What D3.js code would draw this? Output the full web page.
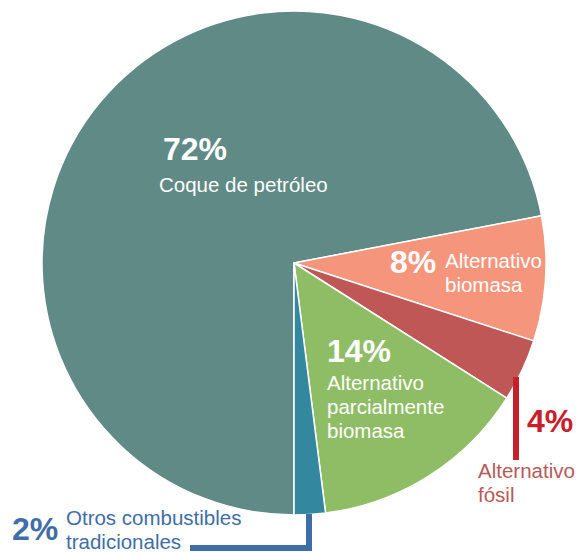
<!DOCTYPE html>
<html>
<head>
<meta charset="utf-8">
<script src="https://cdn.jsdelivr.net/npm/d3@7"></script>
<style>
  html, body { margin: 0; padding: 0; background: #fff; }
  svg { display: block; font-family: "Liberation Sans", Arial, Helvetica, sans-serif; }
</style>
</head>
<body>
<div id="chart-area"></div>
<script>
// data
var categories = ["Coque de petróleo", "Alternativo biomasa", "Alternativo fósil",
  "Alternativo parcialmente biomasa", "Otros combustibles tradicionales"];
var values = [72, 8, 4, 14, 2];
var colors = ["#5f8a86", "#f4957c", "#bf5756", "#8fbd66", "#33889f"];

var width = 577, height = 552;
var cx = 294, cy = 263, radius = 252;

var svg = d3.select("#chart-area")
  .append("svg")
  .attr("width", width)
  .attr("height", height);

var g = svg.append("g")
  .attr("transform", "translate(" + cx + "," + cy + ")");

var pie = d3.pie()
  .sort(null)
  .value(function(d) { return d; })
  .startAngle(Math.PI)
  .endAngle(3 * Math.PI);

var arc = d3.arc().innerRadius(0).outerRadius(radius);

var arcs = pie(values);

g.selectAll("path.slice")
  .data(arcs)
  .enter()
  .append("path")
  .attr("class", "slice")
  .attr("d", arc)
  .attr("fill", function(d, i) { return colors[i]; })
  .attr("stroke", "#fff")
  .attr("stroke-width", 1.5)
  .attr("stroke-linejoin", "round");

// leader lines
svg.append("line")
  .attr("x1", 516).attr("x2", 516)
  .attr("y1", 377).attr("y2", 460)
  .attr("stroke", "#c8202a")
  .attr("stroke-width", 6);

svg.append("path")
  .attr("d", "M190,548H309V514")
  .attr("fill", "none")
  .attr("stroke", "#3f6ea7")
  .attr("stroke-width", 6);

// labels
var labelLayout = [
  { x: 163, y: 160, lines: ["Coque de petróleo"], lx: 159, ly: 192, pc: "#fff", tc: "#fff" },
  { x: 390, y: 273, lines: ["Alternativo", "biomasa"], lx: 445, ly: 268, pc: "#fff", tc: "#fff" },
  { x: 527, y: 432, lines: ["Alternativo", "fósil"], lx: 478, ly: 478, pc: "#c8202a", tc: "#b75a58" },
  { x: 327, y: 362, lines: ["Alternativo", "parcialmente", "biomasa"], lx: 327, ly: 390, pc: "#fff", tc: "#fff" },
  { x: 12, y: 540, lines: ["Otros combustibles", "tradicionales"], lx: 66, ly: 525, pc: "#3f6ea7", tc: "#3f6ea7" }
];

values.forEach(function(v, i) {
  var L = labelLayout[i];
  svg.append("text")
    .attr("x", L.x)
    .attr("y", L.y)
    .attr("font-size", "32px")
    .attr("font-weight", "bold")
    .attr("fill", L.pc)
    .text(v + "%");

  var t = svg.append("text")
    .attr("x", L.lx)
    .attr("y", L.ly)
    .attr("font-size", "20.5px")
    .attr("fill", L.tc);
  L.lines.forEach(function(s, j) {
    t.append("tspan")
      .attr("x", L.lx)
      .attr("dy", j === 0 ? 0 : 24)
      .text(s);
  });
});
</script>
</body>
</html>
